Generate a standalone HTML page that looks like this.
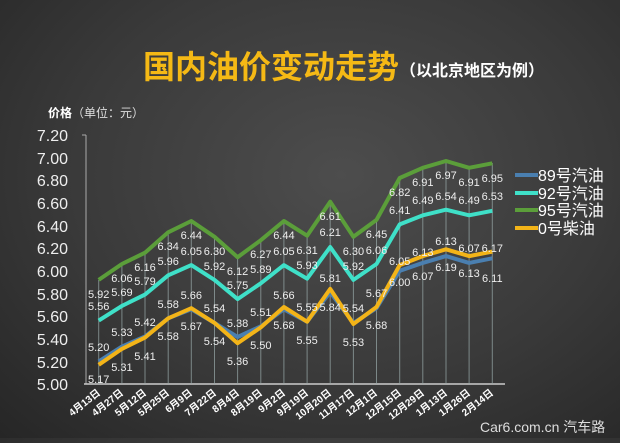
<!DOCTYPE html>
<html><head><meta charset="utf-8"><style>
html,body{margin:0;padding:0}
body{width:620px;height:438px;overflow:hidden;background:radial-gradient(ellipse at 55% 40%,#4d4d4d 0%,#3a3a3a 55%,#262626 100%);font-family:"Liberation Sans","Noto Sans CJK SC",sans-serif}
svg text{font-family:"Liberation Sans","Noto Sans CJK SC",sans-serif}
</style></head><body>
<svg width="620" height="438" viewBox="0 0 620 438" xmlns="http://www.w3.org/2000/svg">
<text x="143" y="78" font-size="32" font-weight="bold" fill="#f5b915">国内油价变动走势</text>
<text x="400" y="76" font-size="16" font-weight="bold" fill="#fff">（以北京地区为例）</text>
<text x="48" y="117" font-size="12" fill="#fff"><tspan font-weight="bold">价格</tspan><tspan fill="#ddd">（单位：元）</tspan></text>
<g font-size="16" fill="#eee" text-anchor="end">
<text x="68" y="141">7.20</text><text x="68" y="164">7.00</text><text x="68" y="186">6.80</text><text x="68" y="209">6.60</text><text x="68" y="232">6.40</text><text x="68" y="254">6.20</text><text x="68" y="277">6.00</text><text x="68" y="300">5.80</text><text x="68" y="322">5.60</text><text x="68" y="345">5.40</text><text x="68" y="368">5.20</text><text x="68" y="390">5.00</text>
</g>
<g stroke="#aaa" stroke-width="1">
<line x1="86" y1="135" x2="86" y2="384"/>
<line x1="82" y1="135" x2="86" y2="135"/>
<line x1="84" y1="384" x2="505" y2="384" stroke="#ccc" stroke-width="1.5"/>
</g>
<g stroke="#9aa" stroke-width="1" opacity="0.7">
<line x1="98.7" y1="384" x2="98.7" y2="280"/><line x1="121.9" y1="384" x2="121.9" y2="264"/><line x1="145" y1="384" x2="145" y2="253"/><line x1="168.2" y1="384" x2="168.2" y2="232"/><line x1="191.3" y1="384" x2="191.3" y2="221"/><line x1="214.5" y1="384" x2="214.5" y2="237"/><line x1="237.6" y1="384" x2="237.6" y2="257"/><line x1="260.8" y1="384" x2="260.8" y2="240"/><line x1="283.9" y1="384" x2="283.9" y2="221"/><line x1="307.1" y1="384" x2="307.1" y2="236"/><line x1="330.2" y1="384" x2="330.2" y2="202"/><line x1="353.4" y1="384" x2="353.4" y2="237"/><line x1="376.5" y1="384" x2="376.5" y2="220"/><line x1="399.7" y1="384" x2="399.7" y2="178"/><line x1="422.8" y1="384" x2="422.8" y2="168"/><line x1="446" y1="384" x2="446" y2="161"/><line x1="469.1" y1="384" x2="469.1" y2="168"/><line x1="492.3" y1="384" x2="492.3" y2="163"/>
</g>
<g fill="none" stroke-width="4" stroke-linejoin="round">
<polyline stroke="#5b9e3a" points="98.7,279.9 121.9,264 145,252.7 168.2,232.3 191.3,221 214.5,236.8 237.6,257.2 260.8,240.2 283.9,221 307.1,235.7 330.2,201.7 353.4,236.8 376.5,219.9 399.7,178 422.8,167.8 446,161 469.1,167.8 492.3,163.3"/>
<polyline stroke="#3fe0c8" points="98.7,320.6 121.9,305.9 145,294.6 168.2,275.3 191.3,265.1 214.5,279.9 237.6,299.1 260.8,283.3 283.9,265.1 307.1,278.7 330.2,247 353.4,279.9 376.5,264 399.7,224.4 422.8,215.3 446,209.7 469.1,215.3 492.3,210.8"/>
<polyline stroke="#4a7fb0" points="98.7,361.4 121.9,346.6 145,336.5 168.2,318.3 191.3,309.3 214.5,322.9 237.6,337 260.8,326.3 283.9,309.3 307.1,321.7 330.2,292.3 353.4,322.9 376.5,308.2 399.7,270.8 422.8,262.9 446,256.1 469.1,262.9 492.3,258.3"/>
<polyline stroke="#f3b418" points="98.7,364.8 121.9,348.9 145,337.6 168.2,318.3 191.3,308.2 214.5,322.9 237.6,343.2 260.8,327.4 283.9,307 307.1,321.7 330.2,288.9 353.4,324 376.5,307 399.7,265.1 422.8,256.1 446,249.3 469.1,256.1 492.3,251.6"/>
</g>
<g font-size="11" fill="#eee" text-anchor="middle">
<text x="98.7" y="298">5.92</text><text x="121.9" y="282">6.06</text><text x="145" y="271">6.16</text><text x="168.2" y="250">6.34</text><text x="191.3" y="239">6.44</text><text x="214.5" y="255">6.30</text><text x="237.6" y="275">6.12</text><text x="260.8" y="258">6.27</text><text x="283.9" y="239">6.44</text><text x="307.1" y="254">6.31</text><text x="330.2" y="220">6.61</text><text x="353.4" y="255">6.30</text><text x="376.5" y="238">6.45</text><text x="399.7" y="196">6.82</text><text x="422.8" y="186">6.91</text><text x="446" y="179">6.97</text><text x="469.1" y="186">6.91</text><text x="492.3" y="182">6.95</text>
<text x="98.7" y="310">5.56</text><text x="121.9" y="296">5.69</text><text x="145" y="285">5.79</text><text x="168.2" y="265">5.96</text><text x="191.3" y="255">6.05</text><text x="214.5" y="270">5.92</text><text x="237.6" y="289">5.75</text><text x="260.8" y="273">5.89</text><text x="283.9" y="255">6.05</text><text x="307.1" y="269">5.93</text><text x="330.2" y="236">6.21</text><text x="353.4" y="270">5.92</text><text x="376.5" y="254">6.06</text><text x="399.7" y="214">6.41</text><text x="422.8" y="204">6.49</text><text x="446" y="200">6.54</text><text x="469.1" y="204">6.49</text><text x="492.3" y="200">6.53</text>
<text x="98.7" y="351">5.20</text><text x="121.9" y="336">5.33</text><text x="145" y="326">5.42</text><text x="168.2" y="308">5.58</text><text x="191.3" y="299">5.66</text><text x="214.5" y="312">5.54</text><text x="237.6" y="327">5.38</text><text x="260.8" y="316">5.51</text><text x="283.9" y="299">5.66</text><text x="307.1" y="311">5.55</text><text x="330.2" y="282">5.81</text><text x="353.4" y="312">5.54</text><text x="376.5" y="297">5.67</text><text x="399.7" y="265">6.05</text><text x="422.8" y="256">6.13</text><text x="446" y="245">6.13</text><text x="469.1" y="252">6.07</text><text x="492.3" y="252">6.17</text>
<text x="98.7" y="383">5.17</text><text x="121.9" y="371">5.31</text><text x="145" y="360">5.41</text><text x="168.2" y="340">5.58</text><text x="191.3" y="330">5.67</text><text x="214.5" y="345">5.54</text><text x="237.6" y="365">5.36</text><text x="260.8" y="349">5.50</text><text x="283.9" y="329">5.68</text><text x="307.1" y="344">5.55</text><text x="330.2" y="311">5.84</text><text x="353.4" y="346">5.53</text><text x="376.5" y="329">5.68</text><text x="399.7" y="286">6.00</text><text x="422.8" y="280">6.07</text><text x="446" y="271">6.19</text><text x="469.1" y="277">6.13</text><text x="492.3" y="282">6.11</text>
</g>
<g font-size="10" font-weight="bold" fill="#fff" text-anchor="end">
<text transform="translate(101,394) rotate(-38)">4月13日</text><text transform="translate(124,394) rotate(-38)">4月27日</text><text transform="translate(147,394) rotate(-38)">5月12日</text><text transform="translate(170,394) rotate(-38)">5月25日</text><text transform="translate(193,394) rotate(-38)">6月9日</text><text transform="translate(217,394) rotate(-38)">7月22日</text><text transform="translate(240,394) rotate(-38)">8月4日</text><text transform="translate(263,394) rotate(-38)">8月19日</text><text transform="translate(286,394) rotate(-38)">9月2日</text><text transform="translate(309,394) rotate(-38)">9月19日</text><text transform="translate(332,394) rotate(-38)">10月20日</text><text transform="translate(355,394) rotate(-38)">11月17日</text><text transform="translate(378,394) rotate(-38)">12月1日</text><text transform="translate(402,394) rotate(-38)">12月15日</text><text transform="translate(425,394) rotate(-38)">12月29日</text><text transform="translate(448,394) rotate(-38)">1月13日</text><text transform="translate(471,394) rotate(-38)">1月26日</text><text transform="translate(494,394) rotate(-38)">2月14日</text>
</g>
<g stroke-width="4">
<line x1="515" y1="175" x2="538" y2="175" stroke="#4a7fb0"/>
<line x1="515" y1="193" x2="538" y2="193" stroke="#3fe0c8"/>
<line x1="515" y1="210" x2="538" y2="210" stroke="#5b9e3a"/>
<line x1="515" y1="228" x2="538" y2="228" stroke="#f3b418"/>
</g>
<g font-size="16" fill="#fff">
<text x="538" y="181">89号汽油</text><text x="538" y="199">92号汽油</text><text x="538" y="216">95号汽油</text><text x="538" y="234">0号柴油</text>
</g>
<text x="480" y="432" font-size="14" fill="#ddd">Car6.com.cn 汽车路</text>
</svg>
</body></html>
